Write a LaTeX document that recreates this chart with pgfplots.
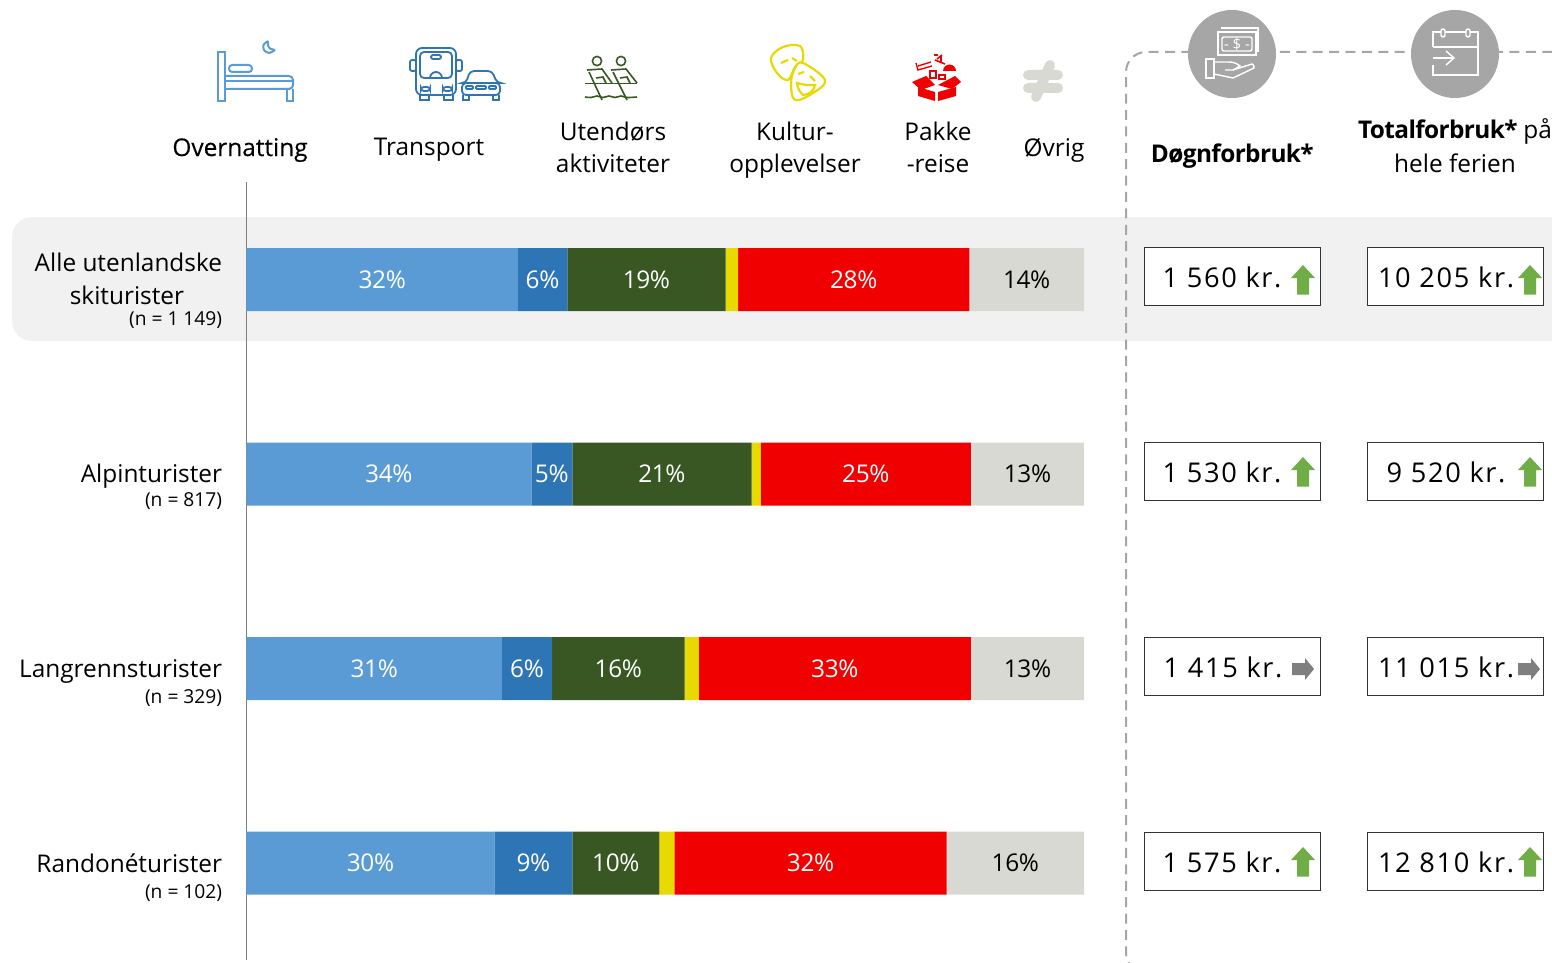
\documentclass[border=0pt]{standalone}
\usepackage{fontspec}
\setmainfont{Open Sans}
\usepackage{pgfplots}
\usepackage{pgfplotstable}
\pgfplotsset{compat=1.18}
\definecolor{cA}{HTML}{5B9BD5}
\definecolor{cB}{HTML}{2E75B6}
\definecolor{cC}{HTML}{385723}
\definecolor{cD}{HTML}{E8D900}
\definecolor{cE}{HTML}{F00000}
\definecolor{cF}{HTML}{D9D9D4}
\definecolor{dashc}{HTML}{A6A6A6}
\definecolor{bandc}{HTML}{F1F1F1}
\definecolor{upg}{HTML}{70AD47}
\definecolor{rg}{HTML}{7F7F7F}
\newcommand{\fs}{\fontsize{12.2}{15}\selectfont}
\newcommand{\fv}{\fontsize{12.2}{15}\selectfont\addfontfeatures{LetterSpace=-1.5}}
\newcommand{\fn}{\fontsize{9.6}{12}\selectfont}
\newcommand{\fh}{\fontsize{12.2}{15}\selectfont\addfontfeatures{LetterSpace=-2.5}}
\newcommand{\fb}{\fontsize{13.6}{16}\selectfont\addfontfeatures{LetterSpace=6}}
\pgfplotstableread{
row a al b bl c cl d e el f fl
0 32.4 32 5.9 6 18.9 19 1.5 27.6 28 13.7 14
1 34.0 34 4.9 5 21.4 21 1.1 25.1 25 13.5 13
2 30.5 31 6.0 6 15.8 16 1.7 32.5 33 13.5 13
3 29.6 30 9.3 9 10.4 10 1.8 32.5 32 16.4 16
}\shares
\begin{document}
\begin{tikzpicture}[x=0.5pt,y=-0.5pt]
\path[use as bounding box,clip] (0,0) rectangle (1552,963);
% highlight band
\fill[bandc,rounded corners=10pt] (12,217) rectangle (1600,341);
% dashed frame
\draw[dashc,line width=1pt,dash pattern=on 5pt off 3.2pt,rounded corners=10pt] (1200,973) -- (1126,973) -- (1126,52) -- (1600,52);
\begin{axis}[
  at={(123.25pt,-91.125pt)},anchor=north west,
  scale only axis,width=418.75pt,height=389pt,
  xbar stacked,bar width=31.5pt,
  xmin=0,xmax=100,ymin=-0.5,ymax=3.5,y dir=reverse,
  axis x line=none,axis y line=left,
  y axis line style={-,draw=rg,line width=0.5pt},
  xtick=\empty,ytick={-0.01,1,2.01,3.01},major tick length=0pt,
  yticklabels={{Alle utenlandske\\[1.2pt]skiturister\rule{19pt}{0pt}\\[-4.5pt]{\fn (n = 1 149)}},
    {Alpinturister\\[-3pt]{\fn (n = 817)}},
    {Langrennsturister\\[-2pt]{\fn (n = 329)}},
    {Randonéturister\\[-2pt]{\fn (n = 102)}}},
  y tick label style={anchor=east,align=right,font=\fs,xshift=-12pt,yshift=-6.5pt,inner sep=0pt},
  point meta=explicit symbolic,
  every node near coord/.append style={font=\fv,yshift=-0.1pt},
  clip=false,
]
\addplot[draw=none,fill=cA,nodes near coords={\pgfplotspointmeta\%},nodes near coords style={white}] table[x=a,y=row,meta=al]{\shares};
\addplot[draw=none,fill=cB,nodes near coords={\pgfplotspointmeta\%},nodes near coords style={white}] table[x=b,y=row,meta=bl]{\shares};
\addplot[draw=none,fill=cC,nodes near coords={\pgfplotspointmeta\%},nodes near coords style={white}] table[x=c,y=row,meta=cl]{\shares};
\addplot[draw=none,fill=cD] table[x=d,y=row,meta=cl]{\shares};
\addplot[draw=none,fill=cE,nodes near coords={\pgfplotspointmeta\%},nodes near coords style={white}] table[x=e,y=row,meta=el]{\shares};
\addplot[draw=none,fill=cF,nodes near coords={\pgfplotspointmeta\%},nodes near coords style={black}] table[x=f,y=row,meta=fl]{\shares};
\end{axis}
% column heads
\begin{scope}[every node/.style={font=\fs,align=center,inner sep=0pt}]
\node at (240,150) {\addfontfeatures{FakeBold=0.25}Overnatting};
\node at (429,150) {Transport};
\node at (613,147) {Utendørs\\[1pt]aktiviteter};
\node at (795,150) {Kultur-\\[1pt]opplevelser};
\node at (938,147) {Pakke\\[1pt]-reise};
\node at (1054,150) {Øvrig};
\node at (1232,156) {\fh\textbf{Døgnforbruk*}};
\node[anchor=north] at (1455,118) {{\fh\textbf{Totalforbruk*}} på\\[2pt]hele ferien};
\end{scope}
% bed
\begin{scope}[draw=cA,line width=1pt]
\draw (218,52) rectangle (225,101);
\draw[rounded corners=1.6pt] (229,65) rectangle (252,72);
\draw[rounded corners=2pt] (225,76) -- (293,76) -- (293,89) -- (225,89);
\draw (225,81) -- (293,81);
\draw (287,89) -- (287,101) -- (293,101) -- (293,89);
\draw plot[smooth] coordinates {(268,41) (263.5,45) (264,50) (269,53) (275,50)};
\draw plot[smooth] coordinates {(275,50) (270,48.5) (268,45) (268,41)};
\end{scope}
% bus and car
\begin{scope}[draw=cB,line width=0.9pt]
\draw[rounded corners=3pt] (416,48) rectangle (456,95);
\draw[rounded corners=2pt] (420,52) rectangle (452,78);
\draw[rounded corners=1pt] (410,60) rectangle (416,71);
\draw[rounded corners=1pt] (456,60) rectangle (462,71);
\draw[rounded corners=1pt] (431,55) rectangle (441,59);
\draw (430,78) arc[start angle=180,end angle=360,radius=6];
\draw[rounded corners=1.5pt] (421,87) rectangle (430,91);
\draw[rounded corners=1.5pt] (443,87) rectangle (452,91);
\draw (420,95) -- (420,100) -- (429,100) -- (429,95);
\draw (444,95) -- (444,100) -- (453,100) -- (453,95);
\draw[fill=white,rounded corners=2pt] (462,83) -- (466,83) -- (470,71) -- (492,71) -- (497,83) -- (500,83) -- (500,95) -- (462,95) -- cycle;
\draw (465,83) -- (498,83);
\draw[rounded corners=0.5pt] (466,86) rectangle (473,89);
\draw[rounded corners=0.5pt] (476,86) rectangle (486,89);
\draw[rounded corners=0.5pt] (489,86) rectangle (496,89);
\draw (463,95) -- (463,100) -- (469,100) -- (469,95);
\draw (493,95) -- (493,100) -- (499,100) -- (499,95);
\end{scope}
% rowers
\begin{scope}[draw=cC,line width=0.8pt]
\draw (597,61) circle[radius=4.6];
\draw (621,61) circle[radius=4.6];
\draw (587,70) -- (602,69) -- (612,83);
\draw (611,70) -- (626,69) -- (637,83);
\draw (589,72) -- (602,100);
\draw (613,72) -- (627,100);
\draw (585,83.5) -- (637,83.5);
\draw (596,78) -- (603,77) -- (606,83);
\draw (620,78) -- (627,77) -- (630,83);
\draw plot[smooth] coordinates {(585,97) (591,97.5) (597,96) (603,97.5) (609,96) (615,97.5) (621,96) (627,97.5) (637,97)};
\end{scope}
% masks
\begin{scope}[draw=cD,line width=1.1pt]
\draw plot[smooth cycle,tension=0.6] coordinates {(771,58) (783,47) (800,46) (803,60) (795,67) (788,80) (777,73)};
\draw[fill=white] plot[smooth cycle,tension=0.6] coordinates {(795,68) (803,63) (825,80) (813,93) (795,100) (791,83)};
\draw (781,63) -- (788,60);
\draw (792,58) -- (797,61);
\draw (798,74) -- (804,72);
\draw (810,76) -- (815,81);
\draw (797,83) to[bend right=10] (815,85) to[bend left=40] (803,95) to[bend left=20] cycle;
\end{scope}
% package
\begin{scope}[fill=cE,draw=cE]
\fill (918,87) -- (935,92) -- (935,101) -- (918,96) -- cycle;
\fill (938,92) -- (956,87) -- (956,96) -- (938,101) -- cycle;
\fill (912,82) -- (926,76) -- (935,85) -- (921,90) -- cycle;
\fill (938,85) -- (955,76) -- (961,82) -- (952,89) -- cycle;
\fill (943,71) arc[start angle=180,end angle=360,radius=6.5] -- cycle;
\draw[line width=0.7pt] (916,63) -- (918,70) -- (932,66);
\draw[line width=0.7pt] (918,66) -- (931,62);
\draw[line width=0.8pt] (937,59) -- (942,55) (941,56) -- (941,63) (935,60) -- (945,64) (934,55) -- (938,55);
\draw[line width=0.6pt] (930,71) rectangle (936,78);
\draw[line width=0.6pt] (939,75) rectangle (945,79);
\end{scope}
% not equal
\draw[cF,line width=5pt,line cap=round] (1028,75) -- (1058,75) (1028,88) -- (1058,88) (1050,65) -- (1036,97);
% circles
\fill[dashc] (1232,54) circle[radius=44];
\fill[dashc] (1455,54) circle[radius=44];
\begin{scope}[draw=white,line width=0.7pt]
\draw (1218,32) rectangle (1256,55);
\draw (1221,28) -- (1258,28) -- (1258,52);
\draw[rounded corners=1pt] (1222,37) rectangle (1252,51);
\node[text=white,font=\fontsize{7.5}{8}\selectfont,inner sep=0pt] at (1237,44) {- \$ -};
\draw (1206,59) rectangle (1214,78);
\draw (1214,62) -- (1228,62) to[bend left=20] (1240,66) -- (1233,70) -- (1225,70);
\draw (1233,70) -- (1252,64) to[bend left=40] (1254,68) -- (1233,78) -- (1214,74);
\draw (1433,47) -- (1433,32) -- (1478,32) -- (1478,75) -- (1433,75) -- (1433,65);
\draw (1433,47) -- (1478,47);
\draw[fill=dashc,rounded corners=1pt] (1441,29) rectangle (1445,37);
\draw[fill=dashc,rounded corners=1pt] (1466,29) rectangle (1470,37);
\draw (1433,58) -- (1454,58);
\draw (1446,51) -- (1454,58) -- (1446,65);
\end{scope}
% value boxes
\begin{scope}[every node/.style={font=\fb,inner sep=0pt,anchor=base}]
\foreach \yy/\ta/\tb/\xa/\xb in {247/1 560 kr./10 205 kr./1222/1446,442/1 530 kr./9 520 kr./1222/1446,637/1 415 kr./11 015 kr./1223/1446,832/1 575 kr./12 810 kr./1222/1446}{
  \draw[line width=0.5pt,black!80,fill=white] (1144,\yy) rectangle ++(176,58);
  \draw[line width=0.5pt,black!80,fill=white] (1367,\yy) rectangle ++(176,58);
  \node at (\xa,\yy+40) {\ta};
  \node at (\xb,\yy+40) {\tb};
}
\end{scope}
\newcommand{\uparr}[2]{\fill[upg] (#1-6,#2+29.5) -- (#1-6,#2+13) -- (#1-12,#2+13) -- (#1,#2) -- (#1+12,#2+13) -- (#1+6,#2+13) -- (#1+6,#2+29.5) -- cycle;}
\newcommand{\rarr}[2]{\fill[rg] (#1-11,#2-6) -- (#1+2,#2-6) -- (#1+2,#2-11) -- (#1+11,#2) -- (#1+2,#2+11) -- (#1+2,#2+6) -- (#1-11,#2+6) -- cycle;}
\uparr{1303}{265}\uparr{1530}{265}
\uparr{1303}{457}\uparr{1530}{457}
\rarr{1303}{669}\rarr{1529}{669}
\uparr{1303}{847}\uparr{1530}{847}
\end{tikzpicture}
\end{document}
